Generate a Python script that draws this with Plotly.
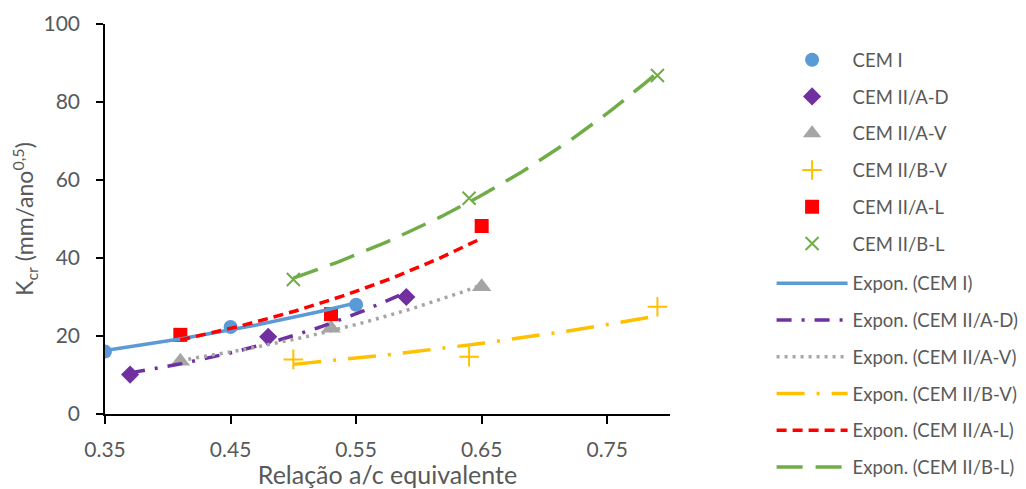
import numpy as np
import plotly.graph_objects as go

FONT = "Lato"
TXT = "#595959"

names = ["CEM I", "CEM II/A-D", "CEM II/A-V", "CEM II/B-V", "CEM II/A-L", "CEM II/B-L"]

x_cem1 = [0.35, 0.45, 0.55]
y_cem1 = [16.0, 22.3, 28.0]

x_iiad = [0.37, 0.48, 0.59]
y_iiad = [10.1, 19.8, 30.0]

x_iiav = [0.41, 0.53, 0.65]
y_iiav = [13.5, 22.0, 32.6]

x_iibv = [0.50, 0.64, 0.79]
y_iibv = [14.0, 14.7, 27.5]

x_iial = [0.41, 0.53, 0.65]
y_iial = [20.3, 25.6, 48.2]

x_iibl = [0.50, 0.64, 0.79]
y_iibl = [34.5, 55.3, 86.8]

xs = [x_cem1, x_iiad, x_iiav, x_iibv, x_iial, x_iibl]
ys = [y_cem1, y_iiad, y_iiav, y_iibv, y_iial, y_iibl]

colors = ["#5B9BD5", "#7030A0", "#A5A5A5", "#FFC000", "#FF0000", "#70AD47"]
symbols = ["circle", "diamond", "triangle-up", "cross-thin", "square", "x-thin"]
msizes = [14, 14, 17, 14, 14, 13]
dashes = ["solid", "15px,10px,3px,10px", "3px,5px", "28px,12px,3px,12px", "10px,6px", "26px,13px"]

x_ticks = [0.35, 0.45, 0.55, 0.65, 0.75]
y_ticks = [0, 20, 40, 60, 80, 100]

fig = go.Figure()

for i, n in enumerate(names):
    mk = dict(symbol=symbols[i], size=msizes[i], color=colors[i])
    if symbols[i].endswith("-thin"):
        mk["line"] = dict(color=colors[i], width=2)
    fig.add_trace(go.Scatter(x=xs[i], y=ys[i], mode="markers", name=n,
                             marker=mk, legendgroup="m%d" % i, legend="legend"))

# Exponential trendlines (least squares on ln y, as Excel does)
for i, n in enumerate(names):
    xa = np.array(xs[i]); ya = np.array(ys[i])
    b, lna = np.polyfit(xa, np.log(ya), 1)
    xf = np.linspace(xa.min(), xa.max(), 60)
    yf = np.exp(lna + b * xf)
    fig.add_trace(go.Scatter(x=xf, y=yf, mode="lines", name="Expon. (%s)" % n,
                             line=dict(color=colors[i], width=3.5, dash=dashes[i]),
                             legendgroup="t%d" % i, legend="legend2"))

leg_common = dict(xanchor="left", yanchor="top", xref="paper", yref="paper",
                  font=dict(family=FONT, size=18.5, color=TXT),
                  tracegroupgap=9.7, itemwidth=71, bgcolor="rgba(0,0,0,0)")

fig.update_layout(
    width=1026, height=489,
    margin=dict(l=105, r=356, t=24, b=75, autoexpand=False),
    paper_bgcolor="white", plot_bgcolor="white",
    font=dict(family=FONT, color=TXT, size=20),
    showlegend=True,
    legend=dict(x=1.1798, y=0.956, **leg_common),
    legend2=dict(x=1.1798, y=0.383, **leg_common),
)
fig.update_xaxes(range=[0.35, 0.8], tickvals=x_ticks, ticktext=["%.2f" % v for v in x_ticks],
                 showgrid=False, zeroline=False, showline=True, linecolor="#000000", linewidth=1.5,
                 ticks="outside", ticklen=8, tickwidth=1.5, tickcolor="#000000",
                 tickfont=dict(size=21, color=TXT), ticklabelstandoff=8, automargin=False,
                 title=dict(text="Relação a/c equivalente", font=dict(size=25, color=TXT), standoff=4))
fig.update_yaxes(range=[0, 100], tickvals=y_ticks,
                 showgrid=False, zeroline=False, showline=True, linecolor="#000000", linewidth=1.5,
                 ticks="outside", ticklen=7, tickwidth=1.5, tickcolor="#000000",
                 tickfont=dict(size=21, color=TXT), ticklabelstandoff=12, automargin=False,
                 title=dict(text="K<sub>cr</sub> (mm/ano<sup>0,5</sup>)", font=dict(size=23, color=TXT), standoff=3))

fig.write_html("out.html", config={"displayModeBar": False},
               post_script="document.body.style.margin='0';")
